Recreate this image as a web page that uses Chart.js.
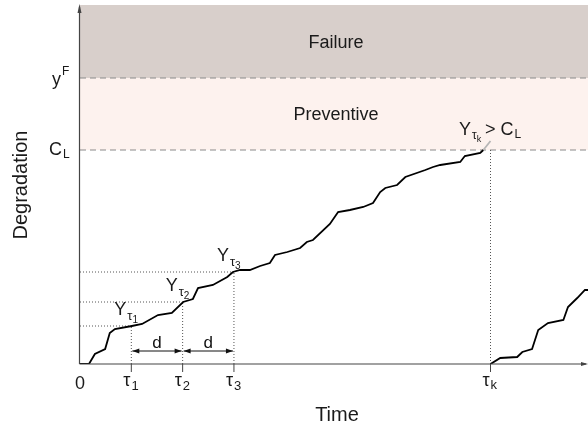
<!DOCTYPE html>
<html>
<head>
<meta charset="utf-8">
<script src="https://cdn.jsdelivr.net/npm/chart.js@4/dist/chart.umd.min.js"></script>
<style>
  html, body { margin: 0; padding: 0; background: #fff; }
  canvas { display: block; }
</style>
</head>
<body>
<canvas id="chart" width="588" height="426"></canvas>
<script>
// time in units of the inspection interval d, degradation in arbitrary units
const path1Time = [0, 0.175, 0.29, 0.49, 0.58, 0.68, 1.01, 1.21, 1.52, 1.79, 2.01, 2.2, 2.3, 2.59, 2.87, 2.98, 3.12, 3.31, 3.51, 3.7, 3.8, 4.04, 4.29, 4.42, 4.54, 4.87, 5.03, 5.26, 5.52, 5.71, 5.85, 5.95, 6.18, 6.34, 6.73, 6.88, 7.02, 7.41, 7.5, 7.8, 7.86, 8.0];
const path1Level = [0, 0, 10, 15, 31, 35, 38, 40, 49, 51, 62, 65, 76, 79, 87, 92, 94, 94, 98, 101, 109, 112, 116, 122, 124, 140, 152, 154, 157, 161, 172, 176, 179, 187, 194, 197, 199, 202, 208, 211, 214, 223];
const path2Time = [8.0, 8.19, 8.52, 8.62, 8.81, 8.93, 9.12, 9.42, 9.51, 9.69, 9.84, 9.9];
const path2Level = [0, 6, 7, 12, 15, 34, 41, 44, 57, 66, 74, 74];

const inspectTimes = [1, 2, 3];
const inspectLevels = [38, 62, 92];
const inspectSubs = ['1', '2', '3'];
const tauK = 8;
const limitCL = 214;
const limitYF = 286;
const yTop = 359;
const xMax = 9.9;

const FONT = '"Liberation Sans", Arial, sans-serif';

function textSub(ctx, base, sub, x, y, size, subSize, subDrop, sup) {
    ctx.font = size + 'px ' + FONT;
    ctx.fillText(base, x, y);
    const w = ctx.measureText(base).width;
    ctx.font = subSize + 'px ' + FONT;
    ctx.fillText(sub, x + w + 1, sup ? y - subDrop : y + subDrop);
    return w + 1 + ctx.measureText(sub).width;
}

function dashed(ctx, x1, y1, x2, y2, pattern, color) {
    ctx.save();
    ctx.strokeStyle = color;
    ctx.lineWidth = 1;
    ctx.setLineDash(pattern);
    ctx.beginPath();
    ctx.moveTo(x1, y1);
    ctx.lineTo(x2, y2);
    ctx.stroke();
    ctx.restore();
}

function arrowHead(ctx, x, y, dir) {
    ctx.beginPath();
    ctx.moveTo(x, y);
    ctx.lineTo(x - dir * 7, y - 2.5);
    ctx.lineTo(x - dir * 7, y + 2.5);
    ctx.closePath();
    ctx.fill();
}

const sketch = {
    id: 'sketch',
    beforeDatasetsDraw(chart) {
        const ctx = chart.ctx;
        const xs = chart.scales.x, ys = chart.scales.y;
        const l = xs.getPixelForValue(0), r = xs.getPixelForValue(xMax);
        const pTop = ys.getPixelForValue(yTop);
        const pF = ys.getPixelForValue(limitYF);
        const pC = ys.getPixelForValue(limitCL);

        ctx.save();
        ctx.fillStyle = '#d8cfcb';
        ctx.fillRect(l, pTop, r - l, pF - pTop);
        ctx.fillStyle = '#fdf2ee';
        ctx.fillRect(l, pF, r - l, pC - pF);
        ctx.restore();

        dashed(ctx, l, pF, r, pF, [6, 4], '#8a8a8a');
        dashed(ctx, l, pC, r, pC, [6, 4], '#8a8a8a');

        const y0 = ys.getPixelForValue(0);
        inspectTimes.forEach((t, i) => {
            const px = xs.getPixelForValue(t), py = ys.getPixelForValue(inspectLevels[i]);
            dashed(ctx, px, y0, px, py, [1, 2], '#555');
            dashed(ctx, l, py, px, py, [1, 2], '#555');
        });
        const pk = xs.getPixelForValue(tauK);
        dashed(ctx, pk, y0, pk, pC, [1, 2], '#555');
    },
    afterDatasetsDraw(chart) {
        const ctx = chart.ctx;
        const xs = chart.scales.x, ys = chart.scales.y;
        const l = xs.getPixelForValue(0), r = xs.getPixelForValue(xMax);
        const y0 = ys.getPixelForValue(0);
        const pTop = ys.getPixelForValue(yTop);

        ctx.save();
        // axes
        ctx.strokeStyle = '#444';
        ctx.fillStyle = '#444';
        ctx.lineWidth = 1.2;
        ctx.beginPath();
        ctx.moveTo(l - 0.5, y0);
        ctx.lineTo(l - 0.5, pTop + 2);
        ctx.moveTo(l - 0.5, y0);
        ctx.lineTo(r - 2, y0);
        ctx.stroke();
        ctx.beginPath();
        ctx.moveTo(l - 0.5, pTop - 1);
        ctx.lineTo(l - 2.5, pTop + 8);
        ctx.lineTo(l + 1.5, pTop + 8);
        ctx.closePath();
        ctx.fill();
        ctx.beginPath();
        ctx.moveTo(r, y0);
        ctx.lineTo(r - 7, y0 - 2);
        ctx.lineTo(r - 7, y0 + 2);
        ctx.closePath();
        ctx.fill();

        // ticks
        ctx.lineWidth = 1;
        inspectTimes.concat([tauK]).forEach(t => {
            const px = xs.getPixelForValue(t);
            ctx.beginPath();
            ctx.moveTo(px, y0);
            ctx.lineTo(px, y0 + 8);
            ctx.stroke();
        });

        // d arrows
        ctx.strokeStyle = '#111';
        ctx.fillStyle = '#111';
        const ay = y0 - 13;
        for (let i = 0; i < inspectTimes.length - 1; i++) {
            const a = xs.getPixelForValue(inspectTimes[i]) + 1;
            const b = xs.getPixelForValue(inspectTimes[i + 1]) - 1;
            ctx.beginPath();
            ctx.moveTo(a, ay);
            ctx.lineTo(b, ay);
            ctx.stroke();
            arrowHead(ctx, a, ay, -1);
            arrowHead(ctx, b, ay, 1);
            ctx.font = '17px ' + FONT;
            ctx.textAlign = 'center';
            ctx.fillText('d', (a + b) / 2, ay - 3);
        }

        // text
        ctx.fillStyle = '#1a1a1a';
        ctx.textAlign = 'center';
        ctx.textBaseline = 'alphabetic';
        ctx.font = '18px ' + FONT;
        ctx.fillText('Failure', 336, 48);
        ctx.fillText('Preventive', 336, 120);
        ctx.font = '20px ' + FONT;
        ctx.fillText('Time', 337, 421);
        ctx.font = '18px ' + FONT;
        ctx.fillText('0', l, 389);

        ctx.save();
        ctx.translate(27, 185);
        ctx.rotate(-Math.PI / 2);
        ctx.font = '20px ' + FONT;
        ctx.fillText('Degradation', 0, 0);
        ctx.restore();

        ctx.textAlign = 'left';
        inspectTimes.forEach((t, i) => {
            const px = xs.getPixelForValue(t);
            textSub(ctx, '\u03c4', inspectSubs[i], px - 8, 386, 18, 13, 4);
            const py = ys.getPixelForValue(inspectLevels[i]);
            const w = textSub(ctx, 'Y', '\u03c4', px - 17, py - 11, 18, 13, 5);
            ctx.font = '10px ' + FONT;
            ctx.fillText(inspectSubs[i], px - 17 + w, py - 11 + 8);
        });
        const pk = xs.getPixelForValue(tauK);
        textSub(ctx, '\u03c4', 'k', pk - 8, 386, 18, 13, 3);

        let w = textSub(ctx, 'Y', '\u03c4', 459, 135, 18, 12, 4);
        ctx.font = '9px ' + FONT;
        ctx.fillText('k', 459 + w, 142);
        textSub(ctx, '> C', 'L', 485, 135, 18, 12, 3);

        textSub(ctx, 'y', 'F', 52, 85, 18, 12, 10, true);
        textSub(ctx, 'C', 'L', 49, 155, 18, 12, 3);
        ctx.restore();
    }
};

const last1 = path1Time.length - 2;

new Chart(document.getElementById('chart'), {
    type: 'line',
    data: {
        datasets: [{
            data: path1Time.map((t, i) => ({ x: t, y: path1Level[i] })),
            borderColor: '#000',
            borderWidth: 1.8,
            pointRadius: 0,
            tension: 0,
            segment: {
                borderColor: c => c.p0DataIndex >= last1 ? '#b5b5b5' : '#000'
            }
        }, {
            data: path2Time.map((t, i) => ({ x: t, y: path2Level[i] })),
            borderColor: '#000',
            borderWidth: 1.8,
            pointRadius: 0,
            tension: 0
        }]
    },
    options: {
        responsive: false,
        animation: false,
        layout: { padding: { left: 80, right: 0, top: 5, bottom: 62 } },
        plugins: { legend: { display: false }, tooltip: { enabled: false } },
        scales: {
            x: { type: 'linear', min: 0, max: xMax, display: false },
            y: { type: 'linear', min: 0, max: yTop, display: false }
        }
    },
    plugins: [sketch]
});
</script>
</body>
</html>
